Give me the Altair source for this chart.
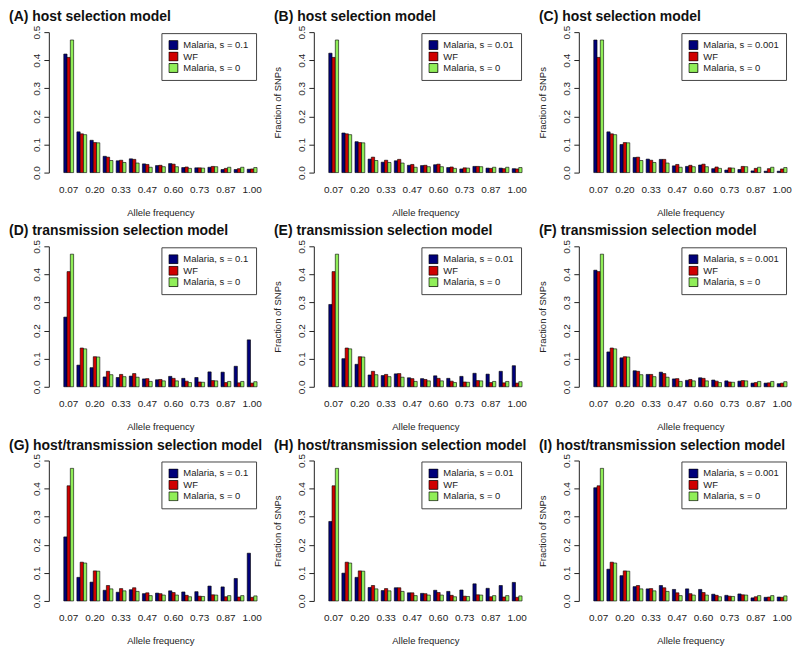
import altair as alt
import pandas as pd

# ---- data ----
bins = ["0.07", "0.13", "0.20", "0.27", "0.33", "0.40", "0.47", "0.53",
        "0.60", "0.67", "0.73", "0.80", "0.87", "0.93", "1.00"]
shown_labels = ["0.07", "0.20", "0.33", "0.47", "0.60", "0.73", "0.87", "1.00"]

wf = [0.410, 0.138, 0.107, 0.055, 0.044, 0.047, 0.029, 0.026, 0.030,
      0.020, 0.017, 0.022, 0.015, 0.014, 0.013]
neutral = [0.472, 0.135, 0.106, 0.043, 0.036, 0.034, 0.019, 0.021, 0.021,
           0.015, 0.016, 0.021, 0.019, 0.019, 0.018]

blue_A = [0.422, 0.145, 0.115, 0.058, 0.042, 0.049, 0.031, 0.025, 0.032,
          0.018, 0.017, 0.019, 0.011, 0.011, 0.012]
blue_B = [0.425, 0.141, 0.110, 0.048, 0.037, 0.042, 0.026, 0.025, 0.028,
          0.018, 0.013, 0.022, 0.016, 0.016, 0.014]
blue_C = [0.472, 0.145, 0.100, 0.054, 0.048, 0.047, 0.024, 0.022, 0.027,
          0.014, 0.009, 0.011, 0.006, 0.005, 0.005]
blue_D = [0.248, 0.077, 0.068, 0.035, 0.033, 0.038, 0.028, 0.025, 0.037,
          0.030, 0.033, 0.053, 0.052, 0.073, 0.167]
blue_E = [0.293, 0.100, 0.080, 0.042, 0.040, 0.046, 0.032, 0.029, 0.039,
          0.030, 0.037, 0.048, 0.045, 0.055, 0.075]
blue_F = [0.415, 0.124, 0.103, 0.057, 0.044, 0.052, 0.028, 0.023, 0.032,
          0.024, 0.021, 0.020, 0.013, 0.013, 0.011]
blue_G = [0.228, 0.084, 0.067, 0.038, 0.031, 0.040, 0.026, 0.028, 0.036,
          0.032, 0.033, 0.053, 0.050, 0.080, 0.170]
blue_H = [0.283, 0.099, 0.084, 0.048, 0.037, 0.047, 0.029, 0.027, 0.038,
          0.034, 0.039, 0.061, 0.045, 0.055, 0.066]
blue_I = [0.403, 0.113, 0.090, 0.051, 0.043, 0.055, 0.041, 0.043, 0.041,
          0.024, 0.020, 0.025, 0.011, 0.013, 0.014]

panel_titles = ["(A) host selection model", "(B) host selection model",
                "(C) host selection model",
                "(D) transmission selection model", "(E) transmission selection model",
                "(F) transmission selection model",
                "(G) host/transmission selection model",
                "(H) host/transmission selection model",
                "(I) host/transmission selection model"]
blue_labels = ["Malaria, s = 0.1", "Malaria, s = 0.01", "Malaria, s = 0.001"] * 3
blue_series = [blue_A, blue_B, blue_C, blue_D, blue_E, blue_F, blue_G, blue_H, blue_I]
wf_label = "WF"
neutral_label = "Malaria, s = 0"
y_ticks = [0.0, 0.1, 0.2, 0.3, 0.4, 0.5]

colors = ["#00007A", "#D00000", "#90EE58"]
FONT = "Liberation Sans"

label_expr = "indexof([" + ",".join("'%s'" % s for s in shown_labels) + "], datum.value) >= 0 ? datum.label : ''"

panels = []
for i in range(9):
    order = [blue_labels[i], wf_label, neutral_label]
    rows = []
    for j, b in enumerate(bins):
        rows.append({"bin": b, "series": order[0], "value": blue_series[i][j]})
        rows.append({"bin": b, "series": order[1], "value": wf[j]})
        rows.append({"bin": b, "series": order[2], "value": neutral[j]})
    df = pd.DataFrame(rows)
    ytitle = "Fraction of SNPs" if i % 3 != 0 else ""
    ch = alt.Chart(df).mark_bar(stroke="black", strokeWidth=0.6).encode(
        x=alt.X("bin:O", sort=bins,
                scale=alt.Scale(paddingInner=0.25, paddingOuter=0),
                axis=alt.Axis(title="Allele frequency", labelExpr=label_expr,
                              labelAngle=0, domain=False, ticks=False,
                              labelPadding=12, titlePadding=13)),
        xOffset=alt.XOffset("series:N", sort=order,
                            scale=alt.Scale(domain=order, paddingInner=0, paddingOuter=0)),
        y=alt.Y("value:Q", scale=alt.Scale(domain=[0, 0.5]),
                axis=alt.Axis(title=ytitle, values=y_ticks, format=".1f",
                              labelAngle=270, labelAlign="center",
                              labelBaseline="bottom", labelPadding=2,
                              tickSize=5, offset=15, grid=False,
                              titlePadding=14)),
        color=alt.Color("series:N",
                        scale=alt.Scale(domain=order, range=colors),
                        legend=alt.Legend(title=None, orient="top-right", offset=1,
                                          strokeColor="#444", fillColor="white",
                                          padding=7, symbolType="square",
                                          symbolSize=80, symbolStrokeColor="black",
                                          symbolStrokeWidth=0.8, symbolOpacity=1,
                                          labelFontSize=9.5, labelFont=FONT,
                                          labelColor="#222", rowPadding=1.5,
                                          clipHeight=10,
                                          labelOffset=5, labelLimit=200)),
    ).properties(
        width=194, height=141,
        title=alt.TitleParams(panel_titles[i], anchor="start", frame="group",
                              dx=-55, fontSize=14, fontWeight="bold",
                              font=FONT, color="#111", offset=1),
    )
    panels.append(ch)

chart = alt.concat(*panels, columns=3, spacing={"row": 74, "column": 72}).properties(
    bounds="flush", padding=0,
).resolve_scale(color="independent", xOffset="independent").configure_view(
    stroke="transparent"
).configure_axis(
    labelFont=FONT, titleFont=FONT, labelFontSize=10, titleFontSize=9.5,
    titleFontWeight="normal", labelColor="#222", titleColor="#222",
    domainColor="#222", tickColor="#222",
)

chart.save("out.html", embed_options={"renderer": "svg", "actions": False})
